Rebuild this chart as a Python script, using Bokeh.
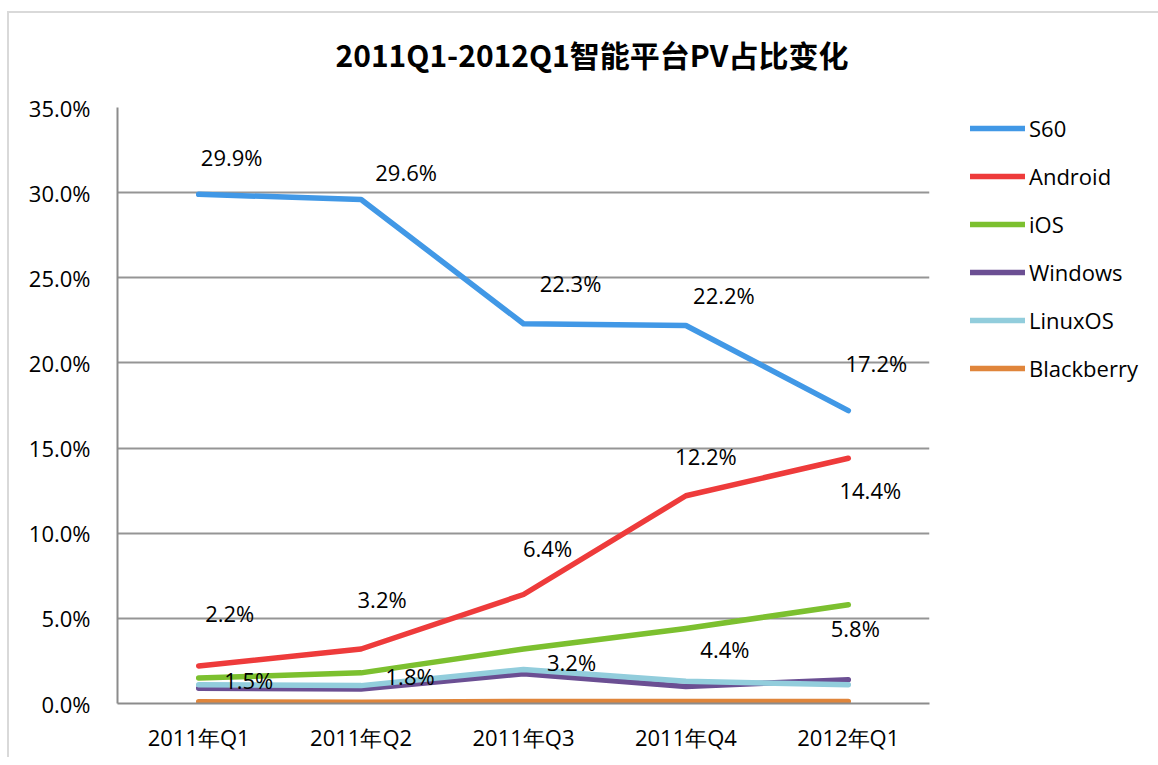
from bokeh.plotting import figure
from bokeh.models import (ColumnDataSource, FactorRange, Range1d, Legend, LegendItem,
                          PrintfTickFormatter, FixedTicker)
from bokeh.core.properties import value
from bokeh.embed import file_html
from bokeh.resources import INLINE

# ---------------- data ----------------
quarters = ["2011年Q1", "2011年Q2", "2011年Q3", "2011年Q4", "2012年Q1"]
series_names = ["S60", "Android", "iOS", "Windows", "LinuxOS", "Blackberry"]
s60 = [29.9, 29.6, 22.3, 22.2, 17.2]
android = [2.2, 3.2, 6.4, 12.2, 14.4]
ios = [1.5, 1.8, 3.2, 4.4, 5.8]
windows = [0.9, 0.85, 1.75, 1.0, 1.4]
linuxos = [1.1, 1.05, 2.0, 1.3, 1.1]
blackberry = [0.1, 0.08, 0.12, 0.12, 0.12]
y_ticks = [0, 5, 10, 15, 20, 25, 30, 35]

# label placement (pixel offsets, style only)
s60_dx = [33, 45, 47, 38, 28]
s60_dy = [-37, -27, -41, -30, -48]
android_dx = [31, 21, 24, 20, 22]
android_dy = [-53, -50, -47, -40, 32]
ios_dx = [50, 49, 48, 39, 7]
ios_dy = [2, 3, 13, 20, 23]

colors = ["#4198E6", "#EE3B3B", "#7CC02F", "#6B4F93", "#92CDDC", "#E0853B"]
series_values = [s60, android, ios, windows, linuxos, blackberry]

FONT = "Open Sans"

p = figure(x_range=FactorRange(*quarters), y_range=Range1d(0, 35),
           frame_width=812, frame_height=596,
           min_border_left=117, min_border_right=213, min_border_top=107, min_border_bottom=54,
           output_backend="svg", toolbar_location=None,
           title="2011Q1-2012Q1智能平台PV占比变化")
# thin light-grey chart-area border (top and left), drawn as CSS background lines
p.styles = {"background": ("linear-gradient(#d9d9d9,#d9d9d9) 7px 11px / 2px 100% no-repeat, "
                           "linear-gradient(#d9d9d9,#d9d9d9) 7px 11px / 100% 2px no-repeat, white")}

p.title.text_font = "Noto Sans CJK SC"
p.title.text_font_size = "30px"
p.title.text_font_style = "bold"
p.title.text_color = "#000000"
p.title.align = "left"
p.title.offset = 218
p.title.vertical_align = "top"
p.title.standoff = 60

p.outline_line_color = None
p.background_fill_color = "white"
p.border_fill_color = None

p.xgrid.grid_line_color = None
p.ygrid.grid_line_color = "#959595"
p.ygrid.grid_line_width = 2
p.ygrid.ticker = FixedTicker(ticks=y_ticks)

p.yaxis.ticker = FixedTicker(ticks=y_ticks)
p.yaxis.formatter = PrintfTickFormatter(format="%.1f%%")
for ax in (p.xaxis, p.yaxis):
    ax.axis_line_color = "#8c8c8c"
    ax.axis_line_width = 2
    ax.major_tick_line_color = None
    ax.minor_tick_line_color = None
    ax.major_tick_out = 0
    ax.major_tick_in = 0
    ax.major_label_text_font = FONT
    ax.major_label_text_font_size = "22px"
    ax.major_label_text_color = "#000000"
p.yaxis.major_label_standoff = 27
p.xaxis.major_label_standoff = 18

renderers = []
for name, vals, col in zip(series_names, series_values, colors):
    src = ColumnDataSource(dict(x=quarters, y=vals))
    r = p.line("x", "y", source=src, line_color=col, line_width=5.5,
               line_cap="round", line_join="round")
    renderers.append(r)

for vals, dx, dy in [(s60, s60_dx, s60_dy), (android, android_dx, android_dy), (ios, ios_dx, ios_dy)]:
    lsrc = ColumnDataSource(dict(x=quarters, y=vals, t=[f"{v:.1f}%" for v in vals], dx=dx, dy=dy))
    p.text("x", "y", text="t", source=lsrc, x_offset="dx", y_offset="dy",
           text_font=value(FONT), text_font_size="22px", text_color="#000000",
           text_align="center", text_baseline="middle")

legend = Legend(items=[LegendItem(label=n, renderers=[r]) for n, r in zip(series_names, renderers)],
                location=(41, 320), orientation="vertical",
                glyph_width=55, glyph_height=30, label_height=30, label_standoff=4,
                spacing=18, padding=0, margin=0,
                border_line_color=None, background_fill_alpha=0,
                label_text_font=FONT, label_text_font_size="22px", label_text_color="#000000",
                label_text_baseline="middle")
p.add_layout(legend, "right")

open("out.html", "w").write(file_html(p, INLINE))
